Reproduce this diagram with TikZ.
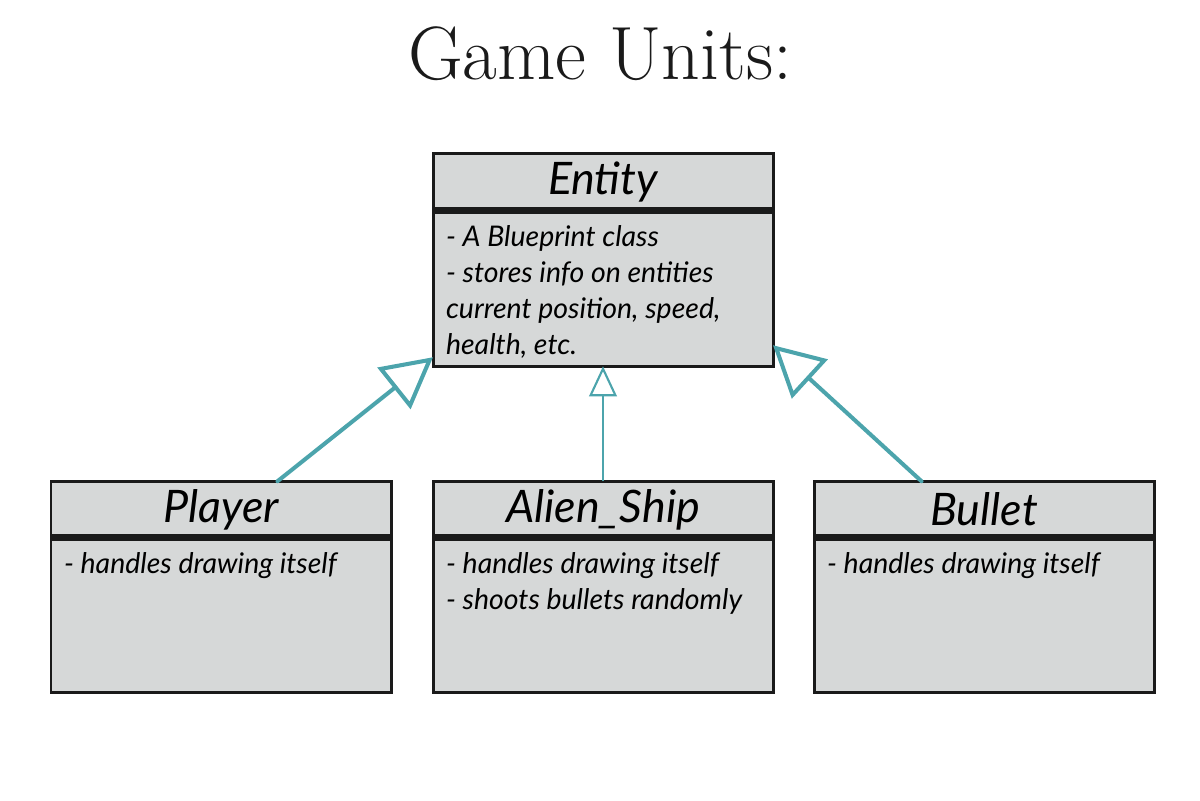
\documentclass[tikz,border=0pt]{standalone}
\usepackage{fontspec}
\usetikzlibrary{positioning,arrows.meta}
\newfontfamily\boxfont{Lato}
\definecolor{boxgray}{RGB}{214,216,216}
\definecolor{boxline}{RGB}{26,26,26}
\definecolor{umlteal}{RGB}{76,164,172}
\newcommand{\classtext}[1]{\parbox[t][2.5cm][t]{6.28cm}{\raggedright #1}}
\begin{document}
\begin{tikzpicture}[
    classhead/.style={draw=boxline, fill=boxgray, line width=1.7pt, minimum width=6.8cm, minimum height=1.13cm,
        inner sep=0pt, outer sep=0pt, font=\boxfont\itshape\fontsize{25.5}{28}\selectfont},
    classbody/.style={draw=boxline, fill=boxgray, line width=1.7pt, minimum width=6.8cm, minimum height=#1,
        inner xsep=0.26cm, inner ysep=0.3cm, outer sep=0pt, anchor=north, font=\boxfont\itshape\fontsize{16.2}{20.4}\selectfont},
    divider/.style={boxline, line width=4pt},
    bigarrow/.style={umlteal, line width=2.3pt, line join=round, line cap=round, -{Triangle[open, length=1cm, width=1.05cm]}},
    smallarrow/.style={umlteal, line width=1.2pt, line join=round, -{Triangle[open, length=0.6cm, width=0.55cm]}}
]
\useasboundingbox (0,0) rectangle (24,-16);
\node[anchor=base, font=\fontsize{43}{48}\selectfont, text=boxline] (title) at (12,-1.6) {Game Units:};

\node[classhead] (entity) at (12.06,-3.64) {Entity};
\node[classbody=3.12cm, below=0pt of entity] (entitybody) {\classtext{- A Blueprint class\\- stores info on entities\\current position, speed,\\health, etc.}};
\draw[divider] (entity.south west) -- (entity.south east);

\node[classhead, below=2.3cm of entitybody] (alien) {Alien\_Ship};
\node[classbody=3.1cm, below=0pt of alien] (alienbody) {\classtext{- handles drawing itself\\- shoots bullets randomly}};
\draw[divider] (alien.south west) -- (alien.south east);

\node[classhead, left=0.84cm of alien] (player) {Player};
\node[classbody=3.1cm, below=0pt of player] (playerbody) {\classtext{- handles drawing itself}};
\draw[divider] (player.south west) -- (player.south east);

\node[classhead, right=0.82cm of alien] (bullet) {Bullet};
\node[classbody=3.1cm, below=0pt of bullet] (bulletbody) {\classtext{- handles drawing itself}};
\draw[divider] (bullet.south west) -- (bullet.south east);

\draw[bigarrow] ([xshift=1.13cm]player.north) -- ([yshift=0.18cm]entitybody.south west);
\draw[smallarrow] (alien.north) -- (entitybody.south);
\draw[bigarrow] ([xshift=-1.25cm]bullet.north) -- ([yshift=0.42cm]entitybody.south east);
\end{tikzpicture}
\end{document}
